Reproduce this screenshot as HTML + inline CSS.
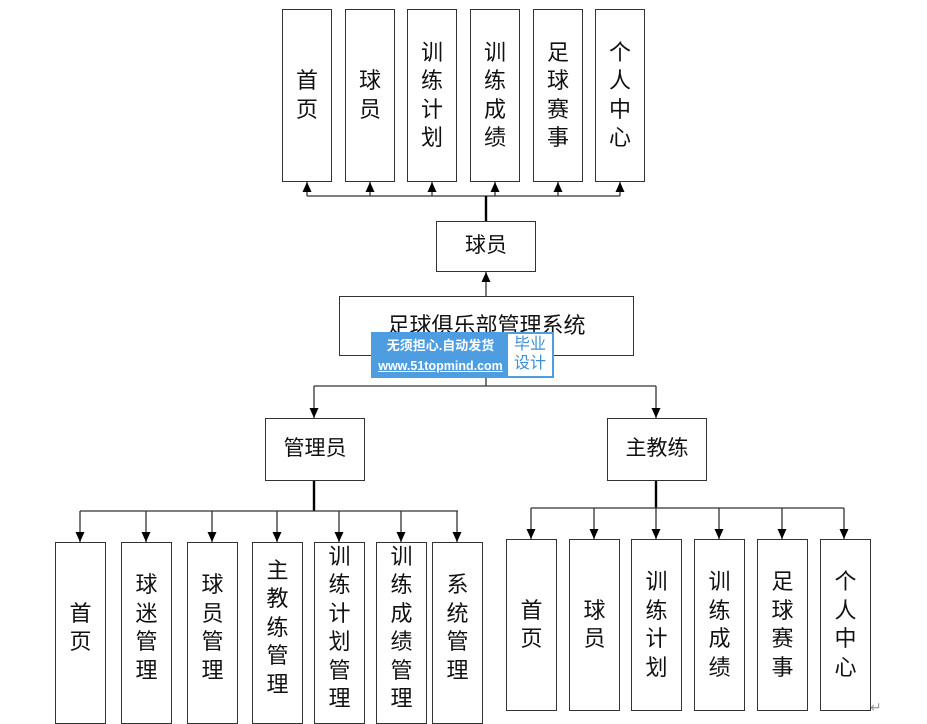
<!DOCTYPE html>
<html><head><meta charset="utf-8"><style>
body{margin:0;width:927px;height:712px;background:#fff;overflow:hidden;position:relative;font-family:"Liberation Sans","Noto Sans CJK SC",sans-serif;}
.b{position:absolute;box-sizing:border-box;border:1.3px solid #333;background:#fff;display:flex;align-items:center;justify-content:center;text-align:center;font-size:22px;line-height:28.5px;color:#111;}
svg{position:absolute;left:0;top:0;}
</style></head><body>
<svg width="927" height="712">
<defs><marker id="a" markerWidth="10" markerHeight="10" refX="10" refY="5" orient="auto" markerUnits="userSpaceOnUse"><path d="M0,0.5 L10,5 L0,9.5 z" fill="#000"/></marker></defs>
<g stroke="#333" stroke-width="1.3" fill="none">
<line x1="307" y1="196" x2="620" y2="196"/>
<line x1="307" y1="196" x2="307" y2="182" marker-end="url(#a)"/>
<line x1="370" y1="196" x2="370" y2="182" marker-end="url(#a)"/>
<line x1="432" y1="196" x2="432" y2="182" marker-end="url(#a)"/>
<line x1="495" y1="196" x2="495" y2="182" marker-end="url(#a)"/>
<line x1="558" y1="196" x2="558" y2="182" marker-end="url(#a)"/>
<line x1="620" y1="196" x2="620" y2="182" marker-end="url(#a)"/>
<line x1="486" y1="196" x2="486" y2="221" stroke-width="2.4" stroke="#000"/>
<line x1="486" y1="296" x2="486" y2="272" marker-end="url(#a)"/>
<line x1="486" y1="378" x2="486" y2="386"/>
<line x1="314" y1="386" x2="656" y2="386"/>
<line x1="314" y1="386" x2="314" y2="418" marker-end="url(#a)"/>
<line x1="656" y1="386" x2="656" y2="418" marker-end="url(#a)"/>
<line x1="314" y1="480" x2="314" y2="511" stroke-width="2.4" stroke="#000"/>
<line x1="80" y1="511" x2="458" y2="511"/>
<line x1="80" y1="511" x2="80" y2="542" marker-end="url(#a)"/>
<line x1="146" y1="511" x2="146" y2="542" marker-end="url(#a)"/>
<line x1="212" y1="511" x2="212" y2="542" marker-end="url(#a)"/>
<line x1="277" y1="511" x2="277" y2="542" marker-end="url(#a)"/>
<line x1="339" y1="511" x2="339" y2="542" marker-end="url(#a)"/>
<line x1="401" y1="511" x2="401" y2="542" marker-end="url(#a)"/>
<line x1="457" y1="511" x2="457" y2="542" marker-end="url(#a)"/>
<line x1="656" y1="480" x2="656" y2="508" stroke-width="2.4" stroke="#000"/>
<line x1="531" y1="508" x2="844" y2="508"/>
<line x1="531" y1="508" x2="531" y2="539" marker-end="url(#a)"/>
<line x1="594" y1="508" x2="594" y2="539" marker-end="url(#a)"/>
<line x1="656" y1="508" x2="656" y2="539" marker-end="url(#a)"/>
<line x1="719" y1="508" x2="719" y2="539" marker-end="url(#a)"/>
<line x1="782" y1="508" x2="782" y2="539" marker-end="url(#a)"/>
<line x1="844" y1="508" x2="844" y2="539" marker-end="url(#a)"/>
</g>
<text x="870" y="712" font-size="14" fill="#999">↵</text>
</svg>
<div class="b" style="left:282px;top:9px;width:50px;height:173px">首<br>页</div>
<div class="b" style="left:345px;top:9px;width:50px;height:173px">球<br>员</div>
<div class="b" style="left:407px;top:9px;width:50px;height:173px">训<br>练<br>计<br>划</div>
<div class="b" style="left:470px;top:9px;width:50px;height:173px">训<br>练<br>成<br>绩</div>
<div class="b" style="left:533px;top:9px;width:50px;height:173px">足<br>球<br>赛<br>事</div>
<div class="b" style="left:595px;top:9px;width:50px;height:173px">个<br>人<br>中<br>心</div>
<div class="b" style="left:436px;top:221px;width:100px;height:51px;font-size:21px">球员</div>
<div class="b" style="left:339px;top:296px;width:295px;height:60px;align-items:flex-start;padding-top:15px">足球俱乐部管理系统</div>
<div style="position:absolute;left:371px;top:332px;width:183px;height:46px;background:#4d9de0;"></div>
<div style="position:absolute;left:374px;top:336px;width:133px;color:#fff;font-size:13px;line-height:20px;font-weight:bold;text-align:center">无须担心.自动发货<br><span style="font-size:12.5px;text-decoration:underline">www.51topmind.com</span></div>
<div style="position:absolute;left:508px;top:334px;width:44px;height:42px;background:#fff;color:#3d8fd8;font-size:16px;line-height:19px;text-align:center;padding-top:1px;box-sizing:border-box">毕业<br>设计</div>
<div class="b" style="left:265px;top:418px;width:100px;height:63px;font-size:21px">管理员</div>
<div class="b" style="left:607px;top:418px;width:100px;height:63px;font-size:21px">主教练</div>
<div class="b" style="left:55px;top:542px;width:51px;height:182px;padding-bottom:10px">首<br>页</div>
<div class="b" style="left:121px;top:542px;width:51px;height:182px;padding-bottom:10px">球<br>迷<br>管<br>理</div>
<div class="b" style="left:187px;top:542px;width:51px;height:182px;padding-bottom:10px">球<br>员<br>管<br>理</div>
<div class="b" style="left:252px;top:542px;width:51px;height:182px;padding-bottom:10px">主<br>教<br>练<br>管<br>理</div>
<div class="b" style="left:314px;top:542px;width:51px;height:182px;padding-bottom:10px">训<br>练<br>计<br>划<br>管<br>理</div>
<div class="b" style="left:376px;top:542px;width:51px;height:182px;padding-bottom:10px">训<br>练<br>成<br>绩<br>管<br>理</div>
<div class="b" style="left:432px;top:542px;width:51px;height:182px;padding-bottom:10px">系<br>统<br>管<br>理</div>
<div class="b" style="left:506px;top:539px;width:51px;height:172px">首<br>页</div>
<div class="b" style="left:569px;top:539px;width:51px;height:172px">球<br>员</div>
<div class="b" style="left:631px;top:539px;width:51px;height:172px">训<br>练<br>计<br>划</div>
<div class="b" style="left:694px;top:539px;width:51px;height:172px">训<br>练<br>成<br>绩</div>
<div class="b" style="left:757px;top:539px;width:51px;height:172px">足<br>球<br>赛<br>事</div>
<div class="b" style="left:820px;top:539px;width:51px;height:172px">个<br>人<br>中<br>心</div>
</body></html>
